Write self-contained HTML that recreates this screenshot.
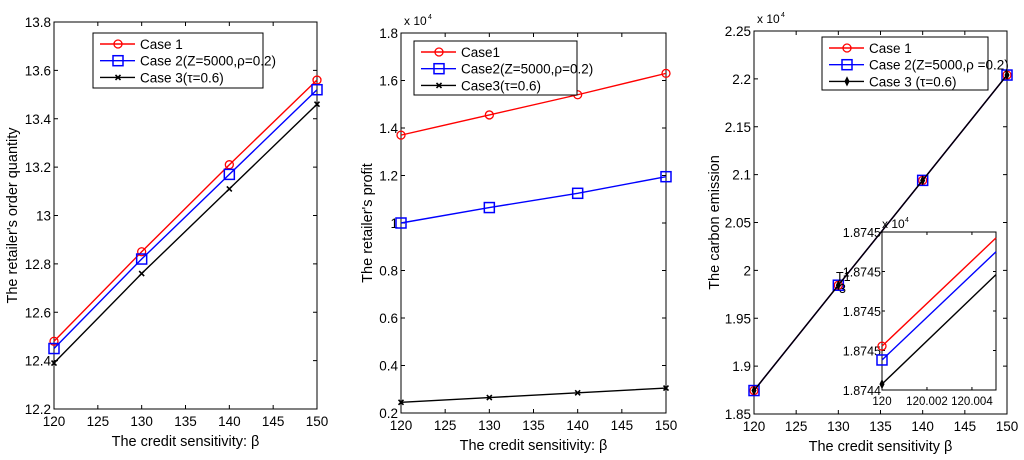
<!DOCTYPE html>
<html><head><meta charset="utf-8">
<style>
body{margin:0;background:#fff;}
svg{display:block;font-family:"Liberation Sans",Arial,sans-serif;}
</style></head>
<body>
<svg id="c" width="1024" height="460"></svg>
<script>
const xCats=[120,130,140,150];
const xTicks=[120,125,130,135,140,145,150];
// panel 1
const p1Case1=[12.48,12.85,13.21,13.56];
const p1Case2=[12.45,12.82,13.17,13.52];
const p1Case3=[12.39,12.76,13.11,13.46];
const p1YTicks=[12.2,12.4,12.6,12.8,13,13.2,13.4,13.6,13.8];
const p1YLabels=["12.2","12.4","12.6","12.8","13","13.2","13.4","13.6","13.8"];
// panel 2 (x10^4)
const p2Case1=[1.37,1.455,1.54,1.63];
const p2Case2=[1.00,1.065,1.125,1.195];
const p2Case3=[0.245,0.265,0.285,0.305];
const p2YTicks=[0.2,0.4,0.6,0.8,1,1.2,1.4,1.6,1.8];
const p2YLabels=["0.2","0.4","0.6","0.8","1","1.2","1.4","1.6","1.8"];
// panel 3 (x10^4)
const p3Case1=[1.8745,1.9845,2.094,2.204];
const p3Case2=[1.8745,1.9845,2.094,2.204];
const p3Case3=[1.8745,1.9845,2.094,2.204];
const p3YTicks=[1.85,1.9,1.95,2,2.05,2.1,2.15,2.2,2.25];
const p3YLabels=["1.85","1.9","1.95","2","2.05","2.1","2.15","2.2","2.25"];
// inset (relative units)
const insetX=[120,120.00507];
const insetCase1=[1.11,3.85];
const insetCase2=[0.76,3.5];
const insetCase3=[0.15,2.92];
const insetXTicks=[120,120.002,120.004];
const insetXLabels=["120","120.002","120.004"];
const insetYTicks=[0,1,2,3,4];
const insetYLabels=["1.8744","1.8745","1.8745","1.8745","1.8745"];

const NS="http://www.w3.org/2000/svg";
const svg=document.getElementById('c');
function el(t,a,p){const e=document.createElementNS(NS,t);for(const k in a)e.setAttribute(k,a[k]);(p||svg).appendChild(e);return e;}
function txt(x,y,s,a,p){const e=el('text',Object.assign({x:x,y:y,'font-size':13.5,fill:'#000'},a),p);e.textContent=s;return e;}
function lin(d0,d1,r0,r1){return v=>r0+(v-d0)/(d1-d0)*(r1-r0);}

function marker(g,type,x,y,color){
  if(type==='o'){const m=el('circle',{cx:x,cy:y,r:4,fill:'none',stroke:color,'stroke-width':1.3},g);
    }
  else if(type==='s'){const m=el('rect',{x:x-5,y:y-5,width:10,height:10,fill:'none',stroke:color,'stroke-width':1.5},g);
    }
  else if(type==='x'){const m=el('path',{d:`M${x-2.5},${y-2.5}L${x+2.5},${y+2.5}M${x-2.5},${y+2.5}L${x+2.5},${y-2.5}`,stroke:color,'stroke-width':1.6},g);
    }
  else if(type==='d'){const m=el('path',{d:`M${x},${y-4}L${x+2},${y}L${x},${y+4}L${x-2},${y}Z`,fill:color,stroke:color},g);
    }
}

function series(g,xs,ys,sx,sy,color,mk,name){
  const s=el('g',{},g);
  
  
  el('polyline',{points:xs.map((v,i)=>sx(v)+','+sy(ys[i])).join(' '),fill:'none',stroke:color,'stroke-width':1.4},s);
  if(mk) xs.forEach((v,i)=>marker(s,mk,sx(v),sy(ys[i]),color));
}

function panel(cfg){
  const g=el('g',{});
  
  
  const {x0,x1,y0,y1}=cfg;
  const sx=lin(120,150,x0,x1), sy=lin(cfg.ymin,cfg.ymax,y1,y0);
  el('rect',{x:x0,y:y0,width:x1-x0,height:y1-y0,fill:'#fff',stroke:'#000','stroke-width':1},g);
  xTicks.forEach(t=>{const x=sx(t);
    el('line',{x1:x,y1:y1,x2:x,y2:y1-4,stroke:'#000'},g);el('line',{x1:x,y1:y0,x2:x,y2:y0+4,stroke:'#000'},g);
    const l=txt(x,y1+17,String(t),{'text-anchor':'middle'},g);
    });
  cfg.yTicks.forEach((t,i)=>{const y=sy(t);
    el('line',{x1:x0,y1:y,x2:x0+4,y2:y,stroke:'#000'},g);el('line',{x1:x1,y1:y,x2:x1-4,y2:y,stroke:'#000'},g);
    const l=txt(x0-3,y+5,cfg.yLabels[i],{'text-anchor':'end'},g);
    });
  if(cfg.exp){const e=txt(x0+3,y0-8,'x 10',{'font-size':12},g);
    txt(x0+27,y0-14,'4',{'font-size':7},g);}
  const xt=txt((x0+x1)/2,y1+37,cfg.xTitle,{'text-anchor':'middle','font-size':14.5},g);
  
  const yt=txt(0,0,cfg.yTitle,{'text-anchor':'middle','font-size':14.5,transform:`translate(${cfg.ytx},${(y0+y1)/2}) rotate(-90)`},g);
  
  cfg.series.forEach(s=>series(g,xCats,s.v,sx,sy,s.c,s.m,s.n));
  const L=cfg.leg;
  const lg=el('g',{},g);
  
  
  el('rect',{x:L.x,y:L.y,width:L.w,height:L.h,fill:'#fff',stroke:'#000','stroke-width':1},lg);
  cfg.series.forEach((s,i)=>{const y=L.y+11+i*16.7;
    const e=el('g',{},lg);
    
    
    el('line',{x1:L.x+7,y1:y,x2:L.x+42,y2:y,stroke:s.c,'stroke-width':1.4},e);
    marker(e,s.m,L.x+25,y,s.c);
    txt(L.x+47,y+5,s.label,{'font-size':13.5},e);});
  return g;
}

panel({name:'order-quantity-panel',x0:54,x1:317,y0:22,y1:409,ymin:12.2,ymax:13.8,yTicks:p1YTicks,yLabels:p1YLabels,
  xTitle:'The credit sensitivity: β',yTitle:"The retailer's order quantity",ytx:17,
  leg:{x:93,y:33,w:170,h:55},
  series:[{v:p1Case1,c:'#f00',m:'o',n:'case1-line',label:'Case 1'},{v:p1Case2,c:'#00f',m:'s',n:'case2-line',label:'Case 2(Z=5000,ρ=0.2)'},{v:p1Case3,c:'#000',m:'x',n:'case3-line',label:'Case 3(τ=0.6)'}]});
panel({name:'profit-panel',x0:401,x1:666,y0:33,y1:413,ymin:0.2,ymax:1.8,yTicks:p2YTicks,yLabels:p2YLabels,exp:true,
  xTitle:'The credit sensitivity: β',yTitle:"The retailer's  profit",ytx:372,
  leg:{x:414,y:41,w:163,h:54},
  series:[{v:p2Case1,c:'#f00',m:'o',n:'case1-line',label:'Case1'},{v:p2Case2,c:'#00f',m:'s',n:'case2-line',label:'Case2(Z=5000,ρ=0.2)'},{v:p2Case3,c:'#000',m:'x',n:'case3-line',label:'Case3(τ=0.6)'}]});
panel({name:'carbon-emission-panel',x0:754,x1:1007,y0:31,y1:414,ymin:1.85,ymax:2.25,yTicks:p3YTicks,yLabels:p3YLabels,exp:true,
  xTitle:'The credit sensitivity β',yTitle:'The carbon emission',ytx:719,
  leg:{x:822,y:37,w:166,h:53},
  series:[{v:p3Case1,c:'#f00',m:'o',n:'case1-line',label:'Case 1'},{v:p3Case2,c:'#00f',m:'s',n:'case2-line',label:'Case 2(Z=5000,ρ =0.2)'},{v:p3Case3,c:'#000',m:'d',n:'case3-line',label:'Case 3 (τ=0.6)'}]});

(function(){
  const g=el('g',{});
  
  
  const x0=882,x1=996,y0=232,y1=390;
  const sx=lin(insetX[0],insetX[1],x0,x1), sy=lin(0,4,y1,y0);
  el('rect',{x:x0,y:y0,width:x1-x0,height:y1-y0,fill:'#fff',stroke:'#000'},g);
  insetXTicks.forEach((t,i)=>{const x=sx(t);el('line',{x1:x,y1:y1,x2:x,y2:y1-3,stroke:'#000'},g);el('line',{x1:x,y1:y0,x2:x,y2:y0+3,stroke:'#000'},g);
    const l=txt(x,y1+15,insetXLabels[i],{'text-anchor':'middle','font-size':11.5},g);});
  insetYTicks.forEach((t,i)=>{const y=sy(t);el('line',{x1:x0,y1:y,x2:x0+3,y2:y,stroke:'#000'},g);el('line',{x1:x1,y1:y,x2:x1-3,y2:y,stroke:'#000'},g);
    const l=txt(x0-1,y+5,insetYLabels[i],{'text-anchor':'end','font-size':12.5},g);});
  txt(x0,y0-4,'x 10',{'font-size':12},g);txt(x0+23,y0-10,'4',{'font-size':7},g);
  txt(836,281,'T1',{'font-size':12.5},g);txt(839,293,'3',{'font-size':12.5},g);
  const xs=insetX;
  function s(v,c,m,n){const gg=el('g',{},g);
    el('polyline',{points:xs.map((x,i)=>sx(x)+','+sy(v[i])).join(' '),fill:'none',stroke:c,'stroke-width':1.4},gg);marker(gg,m,sx(xs[0]),sy(v[0]),c);}
  s(insetCase1,'#f00','o','inset-case1-line');s(insetCase2,'#00f','s','inset-case2-line');s(insetCase3,'#000','d','inset-case3-line');
})();
</script>
</body></html>
